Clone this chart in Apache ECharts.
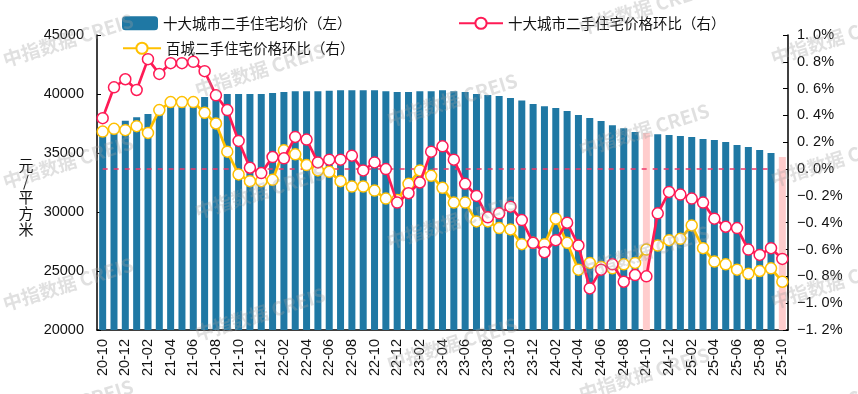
<!DOCTYPE html>
<html><head><meta charset="utf-8">
<script src="https://cdn.jsdelivr.net/npm/echarts@6/dist/echarts.min.js"></script>
<style>html,body{margin:0;padding:0;background:#fff}#c{width:858px;height:394px}</style>
</head><body><div id="c"></div>
<script>
const categories = [
  '20-10','20-11','20-12',
  '21-01','21-02','21-03','21-04','21-05','21-06','21-07','21-08','21-09','21-10','21-11','21-12',
  '22-01','22-02','22-03','22-04','22-05','22-06','22-07','22-08','22-09','22-10','22-11','22-12',
  '23-01','23-02','23-03','23-04','23-05','23-06','23-07','23-08','23-09','23-10','23-11','23-12',
  '24-01','24-02','24-03','24-04','24-05','24-06','24-07','24-08','24-09','24-10','24-11','24-12',
  '25-01','25-02','25-03','25-04','25-05','25-06','25-07','25-08','25-09','25-10'
];
// 十大城市二手住宅均价（元/平方米）
const avgPrice = [
  37000, 37430, 37740,
  38020, 38300, 38600, 38900, 39200, 39500, 39750, 39950, 40000, 40000, 40000, 40000,
  40080, 40170, 40230, 40230, 40230, 40280, 40310, 40310, 40310, 40310, 40230, 40170,
  40170, 40230, 40230, 40310, 40230, 40170, 40000, 39920, 39830, 39660, 39440, 39150,
  38960, 38810, 38560, 38220, 37970, 37710, 37350, 37090, 36780, 36700, 36580, 36530,
  36440, 36360, 36190, 36100, 35930, 35680, 35510, 35250, 35000, 34660
];
// 十大城市二手住宅价格环比（%）
const top10MoM = [
  0.38, 0.61, 0.67,
  0.59, 0.82, 0.71, 0.79, 0.79, 0.80, 0.73, 0.55, 0.44, 0.21, 0.01, -0.03,
  0.09, 0.08, 0.24, 0.22, 0.05, 0.07, 0.07, 0.10, -0.01, 0.05, 0.00, -0.25,
  -0.18, -0.10, 0.13, 0.17, 0.07, -0.11, -0.20, -0.36, -0.33, -0.28, -0.38, -0.55,
  -0.62, -0.53, -0.40, -0.57, -0.89, -0.75, -0.71, -0.84, -0.79, -0.80, -0.33, -0.17,
  -0.19, -0.22, -0.25, -0.37, -0.43, -0.44, -0.60, -0.64, -0.59, -0.67
];
// 百城二手住宅价格环比（%）
const hundredMoM = [
  0.28, 0.30, 0.29,
  0.32, 0.27, 0.44, 0.50, 0.50, 0.50, 0.42, 0.34, 0.13, -0.04, -0.09, -0.09,
  -0.08, 0.14, 0.11, 0.03, -0.01, -0.02, -0.09, -0.13, -0.13, -0.16, -0.22, -0.23,
  -0.11, -0.01, -0.05, -0.14, -0.25, -0.25, -0.39, -0.39, -0.44, -0.45, -0.56, -0.55,
  -0.56, -0.37, -0.55, -0.75, -0.70, -0.73, -0.74, -0.71, -0.70, -0.60, -0.57, -0.53,
  -0.52, -0.42, -0.59, -0.69, -0.71, -0.75, -0.78, -0.76, -0.74, -0.84
];
const highlightMonths = ['24-10', '25-10'];
// zero reference line (right axis), drawn from first month to 25-09
const zeroLine = { from: '20-10', to: '25-09', value: 0 };
const leftTicks = { min: 20000, max: 45000, step: 5000 };
const rightTicks = { min: -1.2, max: 1.0, step: 0.2 };

const seriesNames = ['十大城市二手住宅均价（左）', '十大城市二手住宅价格环比（右）', '百城二手住宅价格环比（右）'];
const FONT = '"Liberation Sans", "Noto Sans CJK SC", sans-serif';
const CJK = '"Noto Sans CJK SC", "Liberation Sans", sans-serif';
const BLUE = '#1F78A4', PINK = '#FFCCCC', RED = '#FF1A55', YEL = '#FFC000', ZERO = '#F0386B';

const barData = avgPrice.map((v, i) => highlightMonths.includes(categories[i])
  ? { value: v, itemStyle: { color: PINK } } : v);

// watermark
const wm = [];
for (let c = 0; c < 5; c++) {
  const x = 68 + 192 * c, y0 = 40 + 30 * c;
  for (let k = -1; k < 4; k++) {
    const y = y0 + 122 * k;
    if (y < -20 || y > 420) continue;
    wm.push({ type: 'text', x: x, y: y, rotation: 0.3, z: 100, silent: true,
      style: { text: '中指数据 CREIS', font: 'bold 19px ' + CJK, fill: 'rgba(160,160,160,0.32)',
        align: 'center', verticalAlign: 'middle' } });
  }
}
wm.push({ type: 'text', x: 26, y: 157, z: 10,
  style: { text: '元\n/\n平\n方\n米', font: '15px ' + CJK, fill: '#111', align: 'center', verticalAlign: 'top', lineHeight: 16 } });

const chart = echarts.init(document.getElementById('c'));
chart.setOption({
  animation: false,
  backgroundColor: '#fff',
  textStyle: { fontFamily: FONT },
  grid: { left: 97, right: 70, top: 35, bottom: 64, containLabel: false },
  legend: [
    { data: [seriesNames[0]], left: 117, top: 11, itemWidth: 36, itemHeight: 14, textStyle: { fontSize: 14.5, fontFamily: CJK, color: '#111' } },
    { data: [seriesNames[1]], left: 453, top: 11, itemWidth: 44, itemHeight: 14, textStyle: { fontSize: 14.5, fontFamily: CJK, color: '#111' } },
    { data: [seriesNames[2]], left: 117, top: 36, itemWidth: 38, itemHeight: 14, textStyle: { fontSize: 14.5, fontFamily: CJK, color: '#111' } }
  ],
  xAxis: {
    type: 'category', data: categories, boundaryGap: true,
    axisLine: { onZero: false, lineStyle: { color: '#000', width: 1.5 } },
    axisTick: { inside: true, length: 5, interval: 1, lineStyle: { color: '#000' } },
    axisLabel: { interval: 1, rotate: 90, fontSize: 14.5, color: '#111', margin: 9, fontFamily: FONT },
    splitLine: { show: false }
  },
  yAxis: [
    { type: 'value', min: leftTicks.min, max: leftTicks.max, interval: leftTicks.step,
      axisLine: { show: true, onZero: false, lineStyle: { color: '#000', width: 1.5 } },
      axisTick: { show: true, inside: true, length: 4, lineStyle: { color: '#000' } },
      axisLabel: { fontSize: 14.5, color: '#111', margin: 13, fontFamily: FONT, formatter: v => String(v) },
      splitLine: { show: false } },
    { type: 'value', min: rightTicks.min, max: rightTicks.max, interval: rightTicks.step,
      axisLine: { show: true, onZero: false, lineStyle: { color: '#000', width: 1.5 } },
      axisTick: { show: true, inside: true, length: 5, lineStyle: { color: '#000' } },
      axisLabel: { fontSize: 14.5, color: '#111', margin: 9, fontFamily: FONT,
        formatter: v => (v < -1e-9 ? '−' : '') + Math.abs(v).toFixed(1).replace('.', '. ') + '%' },
      splitLine: { show: false } }
  ],
  series: [
    { name: seriesNames[0], type: 'bar', yAxisIndex: 0, data: barData, barWidth: 7,
      itemStyle: { color: BLUE } },
    { name: 'zero', type: 'line', yAxisIndex: 1, silent: true, z: 3, symbol: 'none',
      data: [[zeroLine.from, zeroLine.value], [zeroLine.to, zeroLine.value]],
      lineStyle: { color: ZERO, type: [5, 6], width: 1.5 }, itemStyle: { color: ZERO },
      emphasis: { disabled: true }, tooltip: { show: false } },
    { name: seriesNames[1], type: 'line', yAxisIndex: 1, data: top10MoM, z: 5, showAllSymbol: true,
      lineStyle: { color: RED, width: 2.7 }, itemStyle: { color: '#fff', borderColor: RED, borderWidth: 1.5 },
      symbol: 'circle', symbolSize: 11 },
    { name: seriesNames[2], type: 'line', yAxisIndex: 1, data: hundredMoM, z: 4, showAllSymbol: true,
      lineStyle: { color: YEL, width: 2.7 }, itemStyle: { color: '#fff', borderColor: YEL, borderWidth: 1.5 },
      symbol: 'circle', symbolSize: 11 }
  ],
  graphic: wm
});
</script>
</body></html>
